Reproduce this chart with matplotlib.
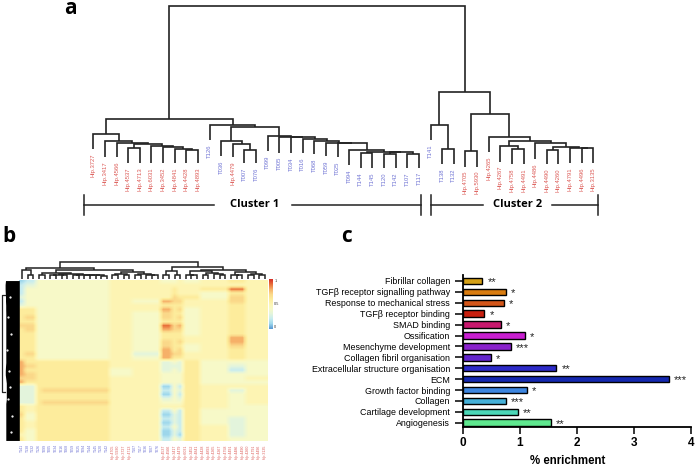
import numpy as np
import matplotlib
matplotlib.use("Agg")
import matplotlib.pyplot as plt
from matplotlib.colors import LinearSegmentedColormap

# Panel a: leaf names and where each leaf line stops (distance units)
leaf_names = ["Hip.3727", "Hip.3417", "Hip.4566", "Hip.4537", "Hip.4713", "Hip.6031", "Hip.3452", "Hip.4841",
              "Hip.4428", "Hip.4893", "T126", "T036", "Hip.4479", "T007", "T076", "T099", "T005", "T034",
              "T016", "T068", "T059", "T025", "T094", "T144", "T145", "T120", "T142", "T107", "T117", "T141",
              "T138", "T132", "Hip.4705", "Hip.5930", "Hip.4265", "Hip.4267", "Hip.4758", "Hip.4491", "Hip.4486",
              "Hip.4490", "Hip.4260", "Hip.4791", "Hip.4496", "Hip.3135"]
leaf_base = [26, 18, 18, 12, 12, 12, 12, 12, 12, 12, 35, 19, 18, 12, 12, 24, 22.3, 22, 22, 21, 19, 18, 10,
             7, 7, 7, 7, 7, 7, 35, 10.7, 10.7, 8.3, 8.3, 22.7, 13.3, 10.7, 10.7, 16, 11, 11, 11.7, 11.7, 11.7]

# Trees are (height, left, right), an int is a leaf
group_a = (41.3, 0, (34, 1, (32.3, 2, (30.7, (27.3, 3, 4),
           (29.3, 5, (28, 6, (26, 7, (24.7, 8, 9))))))))
group_t = (39, 15, (38.3, 16, (38, 17, (36, 18, (34, 19, (32, 20, (31.7, 21, (25, 22,
           (23.3, (22, 23, 24), (22.7, (21, 25, 26), (21.3, 27, 28)))))))))))
group_b = (50.3, 10, (48.3, (34, 11, (30.7, 12, (25.3, 13, 14))), group_t))
group_c = (38.3, 34, (34, (29, 35, (26, 36, 37)),
           (31.7, 38, (28.3, (25.3, 39, 40), (27.3, 41, (26.7, 42, 43))))))
group_d = (83.3, (50, 29, (25.7, 30, 31)), (60.7, (24.3, 32, 33), group_c))
sample_tree = (169, (55.7, group_a, group_b), group_d)

# Panel b: heatmap levels (0-9) per row band, for these column groups
col_groups = [1, 2, 1, 12, 4, 5, 2, 1, 1, 3, 5, 3, 4]
heat_rows = ["1244554454565", "2344555555555", "2444555655695", "2444555655465",
             "3444555766475", "2444548775575", "3444556665565", "6644558674565",
             "6644547664565", "6744547674565", "6644546664565", "7744549784565",
             "6744548774565", "6644546664565", "6644546665585", "6644547675585",
             "6644547664575", "6644548674565", "6744538775565", "6644548665565",
             "8666553436444", "8766553336434", "8666453436424", "8766454446444",
             "7766554446445", "8666554446444", "3366551426555", "3367552436535",
             "3366551426545", "3366553436545", "3367554446545", "6566555556544",
             "6566552426444", "7466551326444", "6466552326434", "6566551326434",
             "6566552426534", "6466551326534", "5466551316534", "6466552436544"]
row_depth = [13.8, 14.2, 14.2, 14, 13.8, 13.8, 13.6, 13.6, 13.5, 13.5, 13.5, 13.5, 13.5, 13.5, 13.5, 13.5,
             13.5, 13.5, 13.5, 13.5, 13.5, 13.8, 14, 14, 13.5, 13, 13, 13, 13, 13, 13.5, 13.5, 13.5, 13.5,
             13.5, 13.5, 13.5, 13.5, 13.5, 13.5]
col_names = ["T141", "T138", "T132", "T126", "T099", "T005", "T034", "T016", "T068", "T059", "T025", "T094",
             "T144", "T145", "T120", "T142", "Hip.4705", "Hip.5930", "Hip.3727", "Hip.4713", "T107", "T117",
             "T036", "T007", "T076", "Hip.4537", "Hip.4566", "Hip.3417", "Hip.4479", "Hip.6031", "Hip.3452",
             "Hip.4841", "Hip.4428", "Hip.4893", "Hip.4265", "Hip.4267", "Hip.4758", "Hip.4491", "Hip.4486",
             "Hip.4490", "Hip.4260", "Hip.4791", "Hip.4496", "Hip.3135"]
col_blue = [True] * 16 + [False] * 4 + [True] * 5 + [False] * 19

heat_tree = (17, (11, (9, 0, (4, 1, 2)),
                  (9, (6.5, (4, 3, 4),
                       (5, (4.5, (4, 5, 6), (4, 7, 8)),
                        (4.5, (4, 9, 10), (4, 11, (3.8, 12, (3.6, 13, (3.4, 14, 15))))))),
                   (7.5, (5, (4, 16, 17), (4, 18, 19)),
                    (5, (4, 20, 21), (4, 22, (3.6, 23, 24)))))),
             (12.3, (8.3, (4, 25, 26), (4, 27, 28)),
              (9, (8, (4.5, 29, (3.6, 30, 31)),
                   (6.5, (4.5, 32, 33), (5, 34, (4, 35, 36)))),
               (7.5, (4.5, 37, (3.6, 38, 39)),
                (5.5, (4, 40, 41), (4, 42, 43))))))

# Panel c: enrichment, bottom bar first
terms = ["Angiogenesis", "Cartilage development", "Collagen", "Growth factor binding", "ECM",
         "Extracellular structure organisation", "Collagen fibril organisation", "Mesenchyme development",
         "Ossification", "SMAD binding", "TGFβ receptor binding", "Response to mechanical stress",
         "TGFβ receptor signalling pathway", "Fibrillar collagen"]
enrichment = [1.55, 0.97, 0.76, 1.13, 3.61, 1.64, 0.50, 0.845, 1.09, 0.67, 0.385, 0.72, 0.76, 0.35]
stars = ["**", "**", "***", "*", "***", "**", "*", "***", "*", "*", "*", "*", "*", "**"]
bar_colors = ["#5fe88f", "#4cd8b8", "#45b0d8", "#3d86e0", "#1428b0", "#2d2bc8", "#6326cc", "#8a22cc",
              "#c81fd0", "#c8186e", "#c8200f", "#d3561a", "#d97c10", "#d4a017"]

W, H = 696, 468
fig = plt.figure(figsize=(W / 100, H / 100), dpi=100)
plt.rcParams["font.family"] = ["Liberation Sans", "DejaVu Sans"]


def px_axes(x0, y0, x1, y1):
    return fig.add_axes([x0 / W, 1 - y1 / H, (x1 - x0) / W, (y1 - y0) / H])


def draw_tree(ax, node, base, lw, color="#222222"):
    if isinstance(node, int):
        return node, base[node]
    xl, yl = draw_tree(ax, node[1], base, lw, color)
    xr, yr = draw_tree(ax, node[2], base, lw, color)
    ax.plot([xl, xl, xr, xr], [yl, node[0], node[0], yr], color=color, lw=lw,
            solid_joinstyle="miter", solid_capstyle="butt")
    return (xl + xr) / 2, node[0]


# a: dendrogram
ax_a = px_axes(70, 0, 620, 175)
ax_a.set_xlim((70 - 93.3) / 11.63, (620 - 93.3) / 11.63)
ax_a.set_ylim(0, 175)
ax_a.axis("off")
draw_tree(ax_a, sample_tree, leaf_base, 1.2)
for i, name in enumerate(leaf_names):
    ax_a.annotate(name, (i, leaf_base[i]), xytext=(0, -3), textcoords="offset points",
                  rotation=90, ha="center", va="top", fontsize=4.2, annotation_clip=False,
                  color="#dc5a56" if name.startswith("Hip") else "#7074d4")

# overlay for brackets and letters
over = fig.add_axes([0, 0, 1, 1])
over.set_xlim(0, W)
over.set_ylim(H, 0)
over.axis("off")
over.patch.set_alpha(0)
for x0, x1, x2, x3, txt, xc in [(84.3, 214, 292, 420.7, "Cluster 1", 255), (430.5, 483, 552, 598, "Cluster 2", 518)]:
    over.plot([x0, x1], [205, 205], color="#222222", lw=1.1)
    over.plot([x2, x3], [205, 205], color="#222222", lw=1.1)
    over.plot([x0, x0], [195, 215], color="#222222", lw=1.1)
    over.plot([x3, x3], [195, 215], color="#222222", lw=1.1)
    over.text(xc, 204.5, txt, ha="center", va="center", fontsize=8, fontweight="bold", family="Open Sans")
for x, y, letter in [(70, 9, "a"), (9, 237, "b"), (347, 237, "c")]:
    over.text(x, y, letter, ha="center", va="center", fontsize=15, fontweight="bold", family="Open Sans")

# b: heatmap
heat_cmap = LinearSegmentedColormap.from_list("heat", [
    "#5b9bd5", "#9fd8ec", "#c8ecef", "#e4f5dc", "#f7f9c8", "#fdf5b4",
    "#fdec9c", "#fbd98a", "#f6b068", "#e8703a", "#d73027"])
levels = np.array([[int(c) for c in row] for row in heat_rows])
heat = np.repeat(levels, col_groups, axis=1)
ax_h = px_axes(19.3, 279.5, 267.7, 441.5)
ax_h.imshow(heat, cmap=heat_cmap, vmin=0, vmax=10, aspect="auto", interpolation="bilinear")
ax_h.set_xlim(-0.5, 43.5)
ax_h.axis("off")
for i, name in enumerate(col_names):
    ax_h.annotate(name, (i, 39.5), xytext=(0, -2), textcoords="offset points", rotation=90,
                  ha="center", va="top", fontsize=2.6, annotation_clip=False,
                  color="#7074d4" if col_blue[i] else "#dc5a56")

# column tree above the heatmap
ax_ct = px_axes(19.3, 259, 267.7, 279)
ax_ct.set_xlim(-0.5, 43.5)
ax_ct.set_ylim(0, 20)
ax_ct.axis("off")
draw_tree(ax_ct, heat_tree, [0.5] * 44, 1.1)

# row tree, packed solid black in the original
ax_rt = px_axes(0, 278.5, 19.3, 442.5)
ax_rt.set_xlim(19.3, 0)
ax_rt.set_ylim(39.5, -0.5)
ax_rt.axis("off")
ax_rt.fill_betweenx(np.arange(len(row_depth)), 0, row_depth, color="black", lw=0)
ax_rt.plot([14, 17.3, 17.3, 14], [3.5, 3.5, 27.3, 27.3], color="#222222", lw=0.9)
ax_rt.plot([9, 11, 8, 12, 10, 9, 11, 7, 8], [4, 9, 13, 17, 22, 26, 29, 33, 37], ".", color="white", ms=1.2)

# colour bar
ax_cb = px_axes(269, 279, 272.7, 329)
ax_cb.imshow(np.linspace(1, 0, 60)[:, None], cmap=heat_cmap, aspect="auto", extent=[0, 1, 0, 1])
ax_cb.axis("off")
for v, label in [(0.96, "1"), (0.5, "0.5"), (0.04, "0")]:
    ax_cb.text(1.4, v, label, transform=ax_cb.transAxes, fontsize=2.8, va="center", color="#333333")

# c: bars
ax_c = px_axes(462.5, 275, 691, 427.3)
pos = np.arange(len(terms))
ax_c.barh(pos, enrichment, height=0.6, color=bar_colors, edgecolor="black", linewidth=1)
for i, v in enumerate(enrichment):
    ax_c.text(v + 0.09, i - 0.12, stars[i], ha="left", va="center", fontsize=8, color="#222222")
ax_c.set_xlim(0, 4)
ax_c.set_ylim(-0.42, 13.55)
ax_c.set_yticks(pos)
ax_c.set_yticklabels(terms, fontsize=6.4)
ax_c.set_xticks([0, 1, 2, 3, 4])
ax_c.set_xticklabels(["0", "1", "2", "3", "4"], fontsize=8.5, fontweight="bold")
ax_c.set_xlabel("% enrichment", fontsize=8.3, fontweight="bold")
ax_c.xaxis.set_label_coords(0.46, -0.185)
ax_c.tick_params(axis="y", length=6, width=1.1, pad=3)
ax_c.tick_params(axis="x", length=5, width=1.1, pad=2)
for side in ["top", "right"]:
    ax_c.spines[side].set_visible(False)
for side in ["left", "bottom"]:
    ax_c.spines[side].set_linewidth(1.3)

fig.savefig("out.png", dpi=100)
